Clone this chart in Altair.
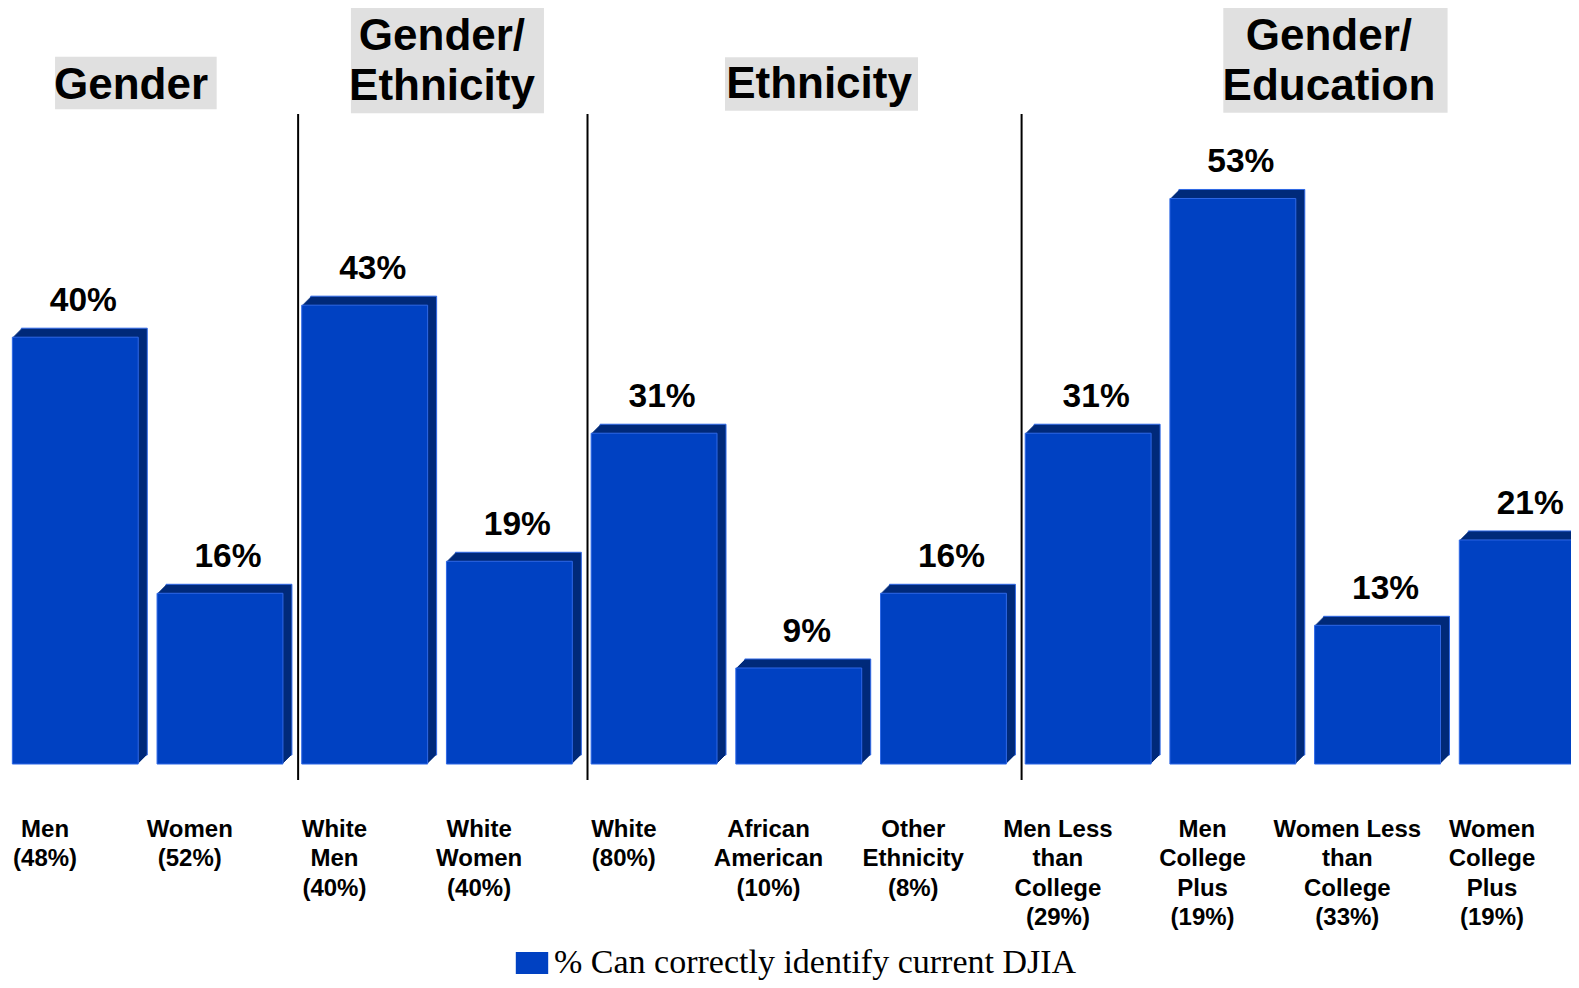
import altair as alt
import pandas as pd

# ---------------- data ----------------
categories = [
    "Men\n(48%)", "Women\n(52%)",
    "White\nMen\n(40%)", "White\nWomen\n(40%)",
    "White\n(80%)", "African\nAmerican\n(10%)", "Other\nEthnicity\n(8%)",
    "Men Less\nthan\nCollege\n(29%)", "Men\nCollege\nPlus\n(19%)",
    "Women Less\nthan\nCollege\n(33%)", "Women\nCollege\nPlus\n(19%)",
]
values = [40, 16, 43, 19, 31, 9, 16, 31, 53, 13, 21]
value_labels = ["40%", "16%", "43%", "19%", "31%", "9%", "16%", "31%", "53%", "13%", "21%"]
group_titles = ["Gender", "Gender/\nEthnicity", "Ethnicity", "Gender/\nEducation"]
group_sizes = [2, 2, 3, 4]
series_name = "% Can correctly identify current DJIA"

# ---------------- layout (not data) ----------------
W, H = 1563, 972
X_DOMAIN = [-0.4651, 10.337]
Y_DOMAIN = [-20.24, 70.85]
HALF = 0.435
FRONT = "#0041C2"
SIDE = "#002a7a"
EDGE = "#2f68e6"
DEPTH = 9
LABEL_Y = -6.84
RULE_TOP, RULE_BOT = 60.92, -1.5

title_x = [0.385, 2.534, 5.140, 8.664]
title_y = [62.3, 66.92, 62.39, 66.92]
box_x = [-0.140, 1.905, 4.490, 7.934]
box_x2 = [0.977, 3.239, 5.824, 9.484]
box_y = [66.29, 70.97, 66.24, 70.97]
box_y2 = [61.36, 60.98, 61.23, 61.03]

df = pd.DataFrame({
    "idx": list(range(len(values))),
    "label": categories,
    "value": values,
    "vlabel": value_labels,
    "series": [series_name] * len(values),
})
df["x0"] = df["idx"] - HALF
df["x1"] = df["idx"] + HALF
df["zero"] = 0.0
df["lx"] = df["idx"] - 0.209
df["ly"] = LABEL_Y

bounds = []
acc = 0
for s in group_sizes[:-1]:
    acc += s
    bounds.append(acc - 0.5 + 0.04)
sep_df = pd.DataFrame({"x": bounds, "yt": [RULE_TOP] * len(bounds), "yb": [RULE_BOT] * len(bounds)})

titles_df = pd.DataFrame({
    "t": group_titles, "x": title_x, "y": title_y,
    "bx": box_x, "bx2": box_x2, "by": box_y, "by2": box_y2,
})

xs = alt.Scale(domain=X_DOMAIN, nice=False, zero=False)
ys = alt.Scale(domain=Y_DOMAIN, nice=False, zero=False)

base = alt.Chart(df)

layers = []
layers.append(
    alt.Chart(titles_df).mark_rect(color="#e0e0e0").encode(
        x=alt.X("bx:Q", scale=xs, axis=None), x2="bx2:Q",
        y=alt.Y("by:Q", scale=ys, axis=None), y2="by2:Q",
    )
)
for k in range(DEPTH, 0, -1):
    props = dict(color=SIDE, clip=True, xOffset=k, x2Offset=k, yOffset=-k, y2Offset=-k)
    if k == DEPTH:
        props.update(stroke=EDGE, strokeWidth=1)
    layers.append(
        base.mark_rect(**props).encode(
            x=alt.X("x0:Q", scale=xs, axis=None), x2="x1:Q",
            y=alt.Y("value:Q", scale=ys, axis=None), y2="zero:Q",
        )
    )
layers.append(
    base.mark_rect(clip=True, stroke=EDGE, strokeWidth=1).encode(
        x=alt.X("x0:Q", scale=xs, axis=None), x2="x1:Q",
        y=alt.Y("value:Q", scale=ys, axis=None), y2="zero:Q",
        color=alt.Color(
            "series:N",
            scale=alt.Scale(domain=[series_name], range=[FRONT]),
            legend=alt.Legend(
                title=None, orient="none", legendX=507, legendY=938,
                symbolType="M-1,-0.68H1V0.68H-1Z", symbolSize=1050,
                symbolStrokeWidth=0, labelFont="Liberation Serif",
                labelFontSize=34, labelColor="black", labelOffset=5,
                labelLimit=1000, padding=0,
            ),
        ),
    )
)
layers.append(
    alt.Chart(sep_df).mark_rule(color="black", strokeWidth=2).encode(
        x=alt.X("x:Q", scale=xs, axis=None),
        y=alt.Y("yt:Q", scale=ys, axis=None), y2="yb:Q",
    )
)
layers.append(
    base.mark_text(font="Liberation Sans", fontWeight="bold", fontSize=33.5,
                   baseline="alphabetic", align="center", dx=8, dy=-26,
                   color="black").encode(
        x=alt.X("idx:Q", scale=xs, axis=None),
        y=alt.Y("value:Q", scale=ys, axis=None),
        text="vlabel:N",
    )
)
layers.append(
    base.mark_text(
        font="Liberation Sans", fontWeight="bold", fontSize=24,
        baseline="alphabetic", align="center", lineBreak="\n",
        lineHeight=29.3, color="black").encode(
        x=alt.X("lx:Q", scale=xs, axis=None),
        y=alt.Y("ly:Q", scale=ys, axis=None),
        text="label:N",
    )
)
layers.append(
    alt.Chart(titles_df).mark_text(
        font="Liberation Sans", fontWeight="bold", fontSize=44,
        baseline="alphabetic", align="center", lineBreak="\n",
        lineHeight=50, color="black").encode(
        x=alt.X("x:Q", scale=xs, axis=None),
        y=alt.Y("y:Q", scale=ys, axis=None),
        text="t:N",
    )
)

chart = alt.layer(*layers).properties(
    width=W, height=H, padding=0,
    autosize=alt.AutoSizeParams(type="none"),
    background="white",
).configure_view(stroke=None)

chart.save("out.html", embed_options={"renderer": "svg", "actions": False})
